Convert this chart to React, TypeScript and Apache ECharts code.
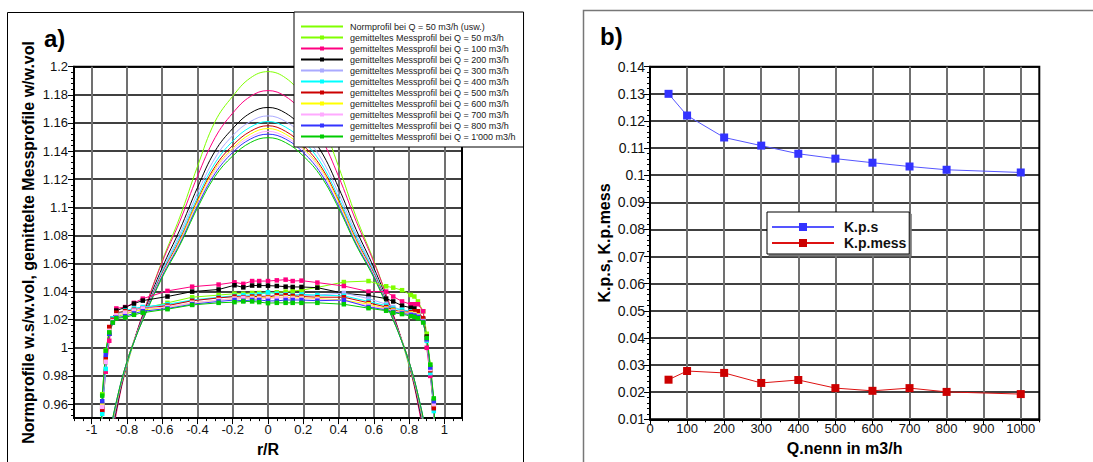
import React, { useEffect, useRef } from "react";
import * as echarts from "echarts";

const FONT = "'Liberation Sans', Arial, Helvetica, sans-serif";

// ---------- Panel a) ----------
const Q_LABELS = ["50", "100", "200", "300", "400", "500", "600", "700", "800", "1'000"];
const COLORS = ["#80ff00", "#ff0080", "#000000", "#aaaaff", "#00ffff", "#cc0000", "#ffff00", "#ffaaff", "#3333ff", "#00cc00"];

const R_NORM = [-0.95, -0.9, -0.85, -0.8, -0.75, -0.7, -0.6, -0.5, -0.4, -0.3, -0.2, -0.1, 0, 0.1, 0.2, 0.3, 0.4, 0.5, 0.6, 0.7, 0.75, 0.8, 0.85, 0.9, 0.95];
const NORM_50 = [0.88, 0.93, 0.962, 0.987, 1.008, 1.027, 1.062, 1.093, 1.129, 1.161, 1.179, 1.192, 1.1965, 1.192, 1.179, 1.161, 1.129, 1.093, 1.062, 1.027, 1.008, 0.987, 0.962, 0.93, 0.88];
const NORM_100 = [0.872, 0.923, 0.96, 0.988, 1.009, 1.0275, 1.061, 1.09, 1.122, 1.1495, 1.167, 1.1788, 1.183, 1.1788, 1.167, 1.1495, 1.122, 1.09, 1.061, 1.0275, 1.009, 0.988, 0.96, 0.923, 0.872];
const NORM_200 = [0.88, 0.928, 0.962, 0.989, 1.0085, 1.026, 1.057, 1.084, 1.114, 1.14, 1.156, 1.167, 1.171, 1.167, 1.156, 1.14, 1.114, 1.084, 1.057, 1.026, 1.0085, 0.989, 0.962, 0.928, 0.88];
const NORM_300 = [0.885, 0.931, 0.964, 0.989, 1.008, 1.025, 1.055, 1.081, 1.11, 1.135, 1.151, 1.161, 1.165, 1.161, 1.151, 1.135, 1.11, 1.081, 1.055, 1.025, 1.008, 0.989, 0.964, 0.931, 0.885];
const NORM_400 = [0.887, 0.932, 0.965, 0.989, 1.008, 1.024, 1.054, 1.079, 1.107, 1.1315, 1.147, 1.157, 1.161, 1.157, 1.147, 1.1315, 1.107, 1.079, 1.054, 1.024, 1.008, 0.989, 0.965, 0.932, 0.887];
const NORM_500 = [0.889, 0.934, 0.965, 0.99, 1.008, 1.024, 1.053, 1.077, 1.105, 1.129, 1.144, 1.154, 1.158, 1.154, 1.144, 1.129, 1.105, 1.077, 1.053, 1.024, 1.008, 0.99, 0.965, 0.934, 0.889];
const NORM_600 = [0.89, 0.934, 0.966, 0.99, 1.008, 1.023, 1.052, 1.076, 1.104, 1.1275, 1.142, 1.152, 1.156, 1.152, 1.142, 1.1275, 1.104, 1.076, 1.052, 1.023, 1.008, 0.99, 0.966, 0.934, 0.89];
const NORM_700 = [0.892, 0.935, 0.966, 0.99, 1.008, 1.023, 1.052, 1.075, 1.102, 1.126, 1.141, 1.15, 1.154, 1.15, 1.141, 1.126, 1.102, 1.075, 1.052, 1.023, 1.008, 0.99, 0.966, 0.935, 0.892];
const NORM_800 = [0.894, 0.936, 0.967, 0.99, 1.0075, 1.023, 1.051, 1.074, 1.101, 1.124, 1.139, 1.1485, 1.152, 1.1485, 1.139, 1.124, 1.101, 1.074, 1.051, 1.023, 1.0075, 0.99, 0.967, 0.936, 0.894];
const NORM_1000 = [0.895, 0.937, 0.967, 0.99, 1.0075, 1.0225, 1.05, 1.073, 1.0995, 1.122, 1.1365, 1.146, 1.1495, 1.146, 1.1365, 1.122, 1.0995, 1.073, 1.05, 1.0225, 1.0075, 0.99, 0.967, 0.937, 0.895];
const NORM_PROFILES = [NORM_50, NORM_100, NORM_200, NORM_300, NORM_400, NORM_500, NORM_600, NORM_700, NORM_800, NORM_1000];

const R_MEAS = [-0.95, -0.94, -0.92, -0.9, -0.88, -0.86, -0.81, -0.76, -0.71, -0.57, -0.43, -0.28, -0.19, -0.14, -0.09, -0.05, 0, 0.05, 0.1, 0.14, 0.19, 0.28, 0.43, 0.57, 0.67, 0.71, 0.76, 0.81, 0.83, 0.85, 0.88, 0.9, 0.92, 0.94, 0.95];
const MEAS_50 = [0.93, 0.967, 0.998, 1.012, 1.019, 1.022, 1.024, 1.026, 1.028, 1.032, 1.036, 1.0375, 1.0385, 1.0385, 1.039, 1.039, 1.039, 1.0395, 1.04, 1.0405, 1.041, 1.043, 1.0468, 1.0475, 1.0438, 1.0428, 1.041, 1.0376, 1.0365, 1.033, 1.026, 1.01, 0.988, 0.963, 0.93];
const MEAS_100 = [0.92, 0.955, 0.983, 1.005, 1.02, 1.028, 1.029, 1.032, 1.035, 1.0405, 1.0435, 1.045, 1.0466, 1.0455, 1.0475, 1.0475, 1.0475, 1.048, 1.0485, 1.0475, 1.0478, 1.0464, 1.044, 1.04, 1.04, 1.0365, 1.033, 1.031, 1.031, 1.031, 1.026, 1.0, 0.98, 0.958, 0.92];
const MEAS_200 = [0.92, 0.958, 0.99, 1.01, 1.021, 1.0265, 1.0287, 1.0315, 1.0336, 1.0365, 1.04, 1.0415, 1.0445, 1.043, 1.0443, 1.0443, 1.0442, 1.044, 1.0435, 1.0433, 1.0433, 1.0428, 1.0388, 1.0372, 1.035, 1.033, 1.03, 1.0285, 1.028, 1.0258, 1.02, 1.008, 0.985, 0.96, 0.92];
const MEAS_300 = [0.92, 0.96, 0.993, 1.012, 1.02, 1.024, 1.026, 1.028, 1.029, 1.0305, 1.0335, 1.0355, 1.0365, 1.037, 1.037, 1.037, 1.037, 1.0375, 1.0375, 1.037, 1.037, 1.0375, 1.039, 1.035, 1.031, 1.029, 1.027, 1.0255, 1.025, 1.0235, 1.019, 1.006, 0.985, 0.958, 0.92];
const MEAS_400 = [0.92, 0.953, 0.985, 1.013, 1.021, 1.024, 1.0265, 1.028, 1.029, 1.031, 1.034, 1.036, 1.037, 1.0375, 1.0375, 1.038, 1.0395, 1.0385, 1.038, 1.0375, 1.038, 1.0375, 1.037, 1.033, 1.03, 1.028, 1.027, 1.026, 1.0255, 1.024, 1.02, 1.005, 0.982, 0.955, 0.92];
const MEAS_500 = [0.92, 0.956, 0.992, 1.0148, 1.02, 1.025, 1.026, 1.027, 1.028, 1.03, 1.0335, 1.0355, 1.0365, 1.036, 1.0365, 1.0365, 1.036, 1.0374, 1.0375, 1.037, 1.0365, 1.036, 1.036, 1.032, 1.029, 1.027, 1.0255, 1.0255, 1.026, 1.026, 1.021, 1.007, 0.984, 0.957, 0.92];
const MEAS_600 = [0.92, 0.96, 0.99, 1.012, 1.019, 1.023, 1.025, 1.026, 1.027, 1.029, 1.032, 1.034, 1.035, 1.035, 1.0355, 1.0355, 1.0355, 1.036, 1.036, 1.0355, 1.0355, 1.035, 1.034, 1.031, 1.028, 1.0265, 1.025, 1.0245, 1.024, 1.023, 1.019, 1.006, 0.985, 0.96, 0.92];
const MEAS_700 = [0.92, 0.958, 0.99, 1.012, 1.019, 1.023, 1.025, 1.0265, 1.028, 1.029, 1.032, 1.034, 1.035, 1.0355, 1.035, 1.035, 1.035, 1.0355, 1.0355, 1.035, 1.035, 1.0345, 1.0335, 1.03, 1.0275, 1.026, 1.025, 1.024, 1.0235, 1.0225, 1.019, 1.006, 0.985, 0.96, 0.92];
const MEAS_800 = [0.92, 0.962, 0.995, 1.01, 1.018, 1.0215, 1.0225, 1.0245, 1.026, 1.028, 1.031, 1.033, 1.034, 1.0335, 1.034, 1.034, 1.0334, 1.0334, 1.034, 1.034, 1.034, 1.0335, 1.034, 1.029, 1.027, 1.0255, 1.0245, 1.0235, 1.023, 1.022, 1.0185, 1.006, 0.986, 0.962, 0.92];
const MEAS_1000 = [0.93, 0.966, 0.998, 1.011, 1.018, 1.021, 1.0216, 1.0235, 1.025, 1.0275, 1.0305, 1.032, 1.0325, 1.033, 1.033, 1.0325, 1.0318, 1.032, 1.032, 1.032, 1.032, 1.032, 1.031, 1.0282, 1.0264, 1.025, 1.024, 1.0225, 1.022, 1.021, 1.018, 1.007, 0.988, 0.964, 0.93];
const MEAS_PROFILES = [MEAS_50, MEAS_100, MEAS_200, MEAS_300, MEAS_400, MEAS_500, MEAS_600, MEAS_700, MEAS_800, MEAS_1000];

const A_X_TICKS = [-1, -0.8, -0.6, -0.4, -0.2, 0, 0.2, 0.4, 0.6, 0.8, 1];
const A_Y_TICKS = [0.96, 0.98, 1, 1.02, 1.04, 1.06, 1.08, 1.1, 1.12, 1.14, 1.16, 1.18, 1.2];

// ---------- Panel b) ----------
const Q_NENN = [50, 100, 200, 300, 400, 500, 600, 700, 800, 1000];
const K_P_S = [0.13, 0.122, 0.1139, 0.1109, 0.1079, 0.1061, 0.1046, 0.1032, 0.102, 0.101];
const K_P_MESS = [0.0246, 0.0278, 0.0271, 0.0234, 0.0245, 0.0215, 0.0205, 0.0215, 0.0201, 0.0193];
const B_X_TICKS = [0, 100, 200, 300, 400, 500, 600, 700, 800, 900, 1000];
const B_Y_TICKS = [0.01, 0.02, 0.03, 0.04, 0.05, 0.06, 0.07, 0.08, 0.09, 0.1, 0.11, 0.12, 0.13, 0.14];

const NORM_LEGEND = "Normprofil bei Q = 50 m3/h (usw.)";
const measName = (q: string) => `gemitteltes Messprofil bei Q = ${q} m3/h`;

function tickRange(min: number, max: number, step: number): number[] {
  const n = Math.round((max - min) / step);
  const out: number[] = [];
  for (let i = 0; i <= n; i++) out.push(+(min + i * step).toFixed(6));
  return out;
}

const fmt = (v: any) => String(+Number(v).toFixed(4));

function minorAxis(gridIndex: number, min: number, max: number, ticks: number[], position: string) {
  return {
    type: "value",
    gridIndex,
    min,
    max,
    position,
    axisLine: { show: true, onZero: false, lineStyle: { color: "#000", width: 2 } },
    axisTick: { show: true, inside: false, length: 3, customValues: ticks, lineStyle: { color: "#000", width: 1 } },
    axisLabel: { show: false },
    splitLine: { show: false },
  };
}

function majorAxis(
  gridIndex: number,
  min: number,
  max: number,
  ticks: number[],
  position: string,
  split: { color: string; width: number },
  fontSize: number,
  margin: number,
  name: string,
  nameGap: number,
  vertical: boolean
) {
  return {
    type: "value",
    gridIndex,
    min,
    max,
    position,
    axisLine: { show: false, onZero: false },
    axisTick: { show: true, inside: false, length: 6, customValues: ticks, lineStyle: { color: "#000", width: 1 } },
    axisLabel: { show: true, customValues: ticks, formatter: fmt, fontSize, color: "#111", fontFamily: FONT, margin },
    splitLine: { show: true, lineStyle: { color: split.color, width: split.width } },
    name,
    nameLocation: "middle",
    nameGap,
    nameRotate: vertical ? 90 : 0,
    nameTextStyle: { fontSize: 16, fontWeight: "bold", fontFamily: FONT, color: "#000" },
  };
}

export default function App() {
  const ref = useRef<HTMLDivElement>(null);

  useEffect(() => {
    if (!ref.current) return;
    const chart = echarts.init(ref.current, undefined, { renderer: "svg" });

    const normSeries = NORM_PROFILES.map((vals, i) => ({
      type: "line",
      name: i === 0 ? NORM_LEGEND : `Normprofil bei Q = ${Q_LABELS[i]} m3/h`,
      xAxisIndex: 0,
      yAxisIndex: 0,
      data: R_NORM.map((r, j) => [r, vals[j]]),
      smooth: 0.4,
      symbol: "none",
      clip: true,
      lineStyle: { color: COLORS[i], width: 1 },
      itemStyle: { color: COLORS[i] },
      z: 2,
    }));

    const measSeries = MEAS_PROFILES.map((vals, i) => ({
      type: "line",
      name: measName(Q_LABELS[i]),
      xAxisIndex: 0,
      yAxisIndex: 0,
      data: R_MEAS.map((r, j) => [r, vals[j]]),
      symbol: "rect",
      symbolSize: 4.5,
      clip: true,
      lineStyle: { color: COLORS[i], width: 1 },
      itemStyle: { color: COLORS[i] },
      z: 3,
    }));

    const option: any = {
      animation: false,
      backgroundColor: "#fff",
      textStyle: { fontFamily: FONT },
      grid: [
        { left: 74, top: 66.7, width: 388, height: 353.3, show: true, borderColor: "#000", borderWidth: 2, backgroundColor: "transparent" },
        { left: 650, top: 66.7, width: 389.3, height: 352.6, show: true, borderColor: "#000", borderWidth: 2, backgroundColor: "transparent" },
      ],
      xAxis: [
        minorAxis(0, -1.1, 1.1, tickRange(-1.1, 1.1, 0.05), "bottom"),
        majorAxis(0, -1.1, 1.1, A_X_TICKS, "bottom", { color: "#707070", width: 2 }, 13, 5, "r/R", 11, false),
        minorAxis(1, 0, 1050, tickRange(0, 1050, 50), "bottom"),
        majorAxis(1, 0, 1050, B_X_TICKS, "bottom", { color: "#707070", width: 2 }, 13, 3, "Q.nenn in m3/h", 18, false),
      ],
      yAxis: [
        minorAxis(0, 0.95, 1.2, tickRange(0.952, 1.2, 0.004), "left"),
        majorAxis(0, 0.95, 1.2, A_Y_TICKS, "left", { color: "#000", width: 1.5 }, 13, 6,
          "Normprofile w.s/w.vol, gemittelte Messprofile w/w.vol", 38, true),
        minorAxis(1, 0.01, 0.14, tickRange(0.01, 0.14, 0.002), "left"),
        majorAxis(1, 0.01, 0.14, B_Y_TICKS, "left", { color: "#000", width: 1.5 }, 14, 5, "K.p.s, K.p.mess", 38, true),
      ],
      legend: [
        {
          orient: "vertical",
          left: 294,
          top: 12,
          padding: [9, 8, 5, 6],
          itemGap: 0,
          itemWidth: 42,
          itemHeight: 5,
          backgroundColor: "#fff",
          borderColor: "#000",
          borderWidth: 1,
          selectedMode: false,
          textStyle: { fontSize: 9, fontFamily: FONT, color: "#222", lineHeight: 11, padding: [0, 0, 0, 2] },
          data: [{ name: NORM_LEGEND, itemStyle: { opacity: 0 } }, ...Q_LABELS.map((q) => measName(q))],
        },
        {
          orient: "vertical",
          left: 767,
          top: 212,
          padding: [7, 3, 3, 4],
          itemGap: 0,
          itemWidth: 62,
          itemHeight: 10,
          backgroundColor: "#fff",
          borderColor: "#000",
          borderWidth: 1,
          shadowColor: "#777",
          shadowBlur: 0,
          shadowOffsetX: 2,
          shadowOffsetY: 2,
          selectedMode: false,
          textStyle: { fontSize: 14, fontWeight: "bold", fontFamily: FONT, color: "#111", lineHeight: 16, padding: [0, 0, 0, 5] },
          data: ["K.p.s", "K.p.mess"],
        },
      ],
      graphic: [
        { type: "rect", silent: true, z: -10, shape: { x: 7.5, y: 12.5, width: 516, height: 480 }, style: { fill: "none", stroke: "#000", lineWidth: 1 } },
        { type: "rect", silent: true, z: -10, shape: { x: 583.5, y: 10.5, width: 540, height: 480 }, style: { fill: "none", stroke: "#777", lineWidth: 1.5 } },
        { type: "text", x: 44, y: 38, style: { text: "a)", font: `bold 24px ${FONT}`, fill: "#000", verticalAlign: "middle" } },
        { type: "text", x: 600, y: 36, style: { text: "b)", font: `bold 24px ${FONT}`, fill: "#000", verticalAlign: "middle" } },
      ],
      series: [
        ...normSeries,
        ...measSeries,
        {
          type: "line",
          name: "K.p.s",
          xAxisIndex: 2,
          yAxisIndex: 2,
          data: Q_NENN.map((q, i) => [q, K_P_S[i]]),
          symbol: "rect",
          symbolSize: 8,
          lineStyle: { color: "#5555ff", width: 1 },
          itemStyle: { color: "#3333ff" },
          z: 3,
        },
        {
          type: "line",
          name: "K.p.mess",
          xAxisIndex: 2,
          yAxisIndex: 2,
          data: Q_NENN.map((q, i) => [q, K_P_MESS[i]]),
          symbol: "rect",
          symbolSize: 8,
          lineStyle: { color: "#dd1111", width: 1 },
          itemStyle: { color: "#cc0000" },
          z: 3,
        },
      ],
    };

    chart.setOption(option);
    return () => chart.dispose();
  }, []);

  return (
    <div
      ref={ref}
      style={{ position: "fixed", left: 0, top: 0, width: 1093, height: 462, background: "#fff" }}
    />
  );
}
